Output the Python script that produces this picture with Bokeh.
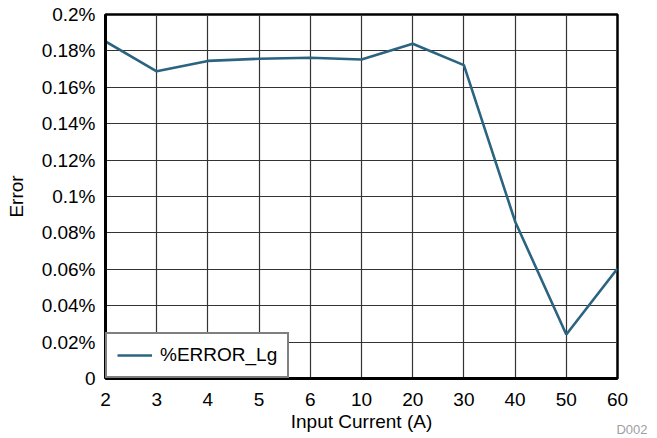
from bokeh.plotting import figure
from bokeh.models import Range1d, FixedTicker, Label, Legend, LegendItem
from bokeh.embed import file_html
from bokeh.resources import INLINE

currents = ["2", "3", "4", "5", "6", "10", "20", "30", "40", "50", "60"]
error_pct = [0.1852, 0.1688, 0.1745, 0.1757, 0.1762, 0.1753, 0.1839, 0.1722, 0.0863, 0.0242, 0.0604]
y_ticks = [0, 0.02, 0.04, 0.06, 0.08, 0.1, 0.12, 0.14, 0.16, 0.18, 0.2]
y_labels = ["0", "0.02%", "0.04%", "0.06%", "0.08%", "0.1%", "0.12%", "0.14%", "0.16%", "0.18%", "0.2%"]

FONT = "Liberation Sans"
xs = list(range(len(currents)))

p = figure(width=655, height=437, output_backend="svg", toolbar_location=None,
           x_range=Range1d(0, len(currents) - 1), y_range=Range1d(0, 0.2),
           min_border_left=105, min_border_right=38, min_border_top=14, min_border_bottom=59)
p.frame_width = 512
p.frame_height = 364

r = p.line(xs, error_pct, line_color="#2b6480", line_width=2.6)

p.xaxis.ticker = FixedTicker(ticks=xs)
p.xaxis.major_label_overrides = {i: c for i, c in enumerate(currents)}
p.yaxis.ticker = FixedTicker(ticks=y_ticks)
p.yaxis.major_label_overrides = {t: l for t, l in zip(y_ticks, y_labels)}

for ax in (p.xaxis[0], p.yaxis[0]):
    ax.major_tick_line_color = None
    ax.minor_tick_line_color = None
    ax.axis_line_color = "black"
    ax.axis_line_width = 3
    ax.major_label_text_font = FONT
    ax.major_label_text_font_size = "19px"
    ax.major_label_text_color = "black"
    ax.axis_label_text_font = FONT
    ax.axis_label_text_font_size = "19px"
    ax.axis_label_text_font_style = "normal"
    ax.axis_label_text_color = "black"

p.xaxis.major_label_standoff = 8
p.yaxis.major_label_standoff = 4
p.xaxis.axis_label = "Input Current (A)"
p.yaxis.axis_label = "Error"
p.xaxis.axis_label_standoff = 2
p.yaxis.axis_label_standoff = 12

p.xgrid.ticker = FixedTicker(ticks=xs)
p.ygrid.ticker = FixedTicker(ticks=y_ticks)
p.grid.grid_line_color = "#333333"
p.grid.grid_line_width = 1.2
p.outline_line_color = "black"
p.outline_line_width = 2.5
p.background_fill_color = "white"
p.border_fill_color = "white"

legend = Legend(items=[LegendItem(label="%ERROR_Lg", renderers=[r])], location="bottom_left")
legend.margin = 0
legend.padding = 10
legend.spacing = 0
legend.glyph_width = 35
legend.glyph_height = 22
legend.label_standoff = 8
legend.label_text_font = FONT
legend.label_text_font_size = "19px"
legend.label_text_color = "black"
legend.border_line_color = "black"
legend.border_line_width = 2.5
legend.background_fill_alpha = 1
p.add_layout(legend)

p.add_layout(Label(x=30, y=-51, x_units="screen", y_units="screen", text="D002",
                   text_font=FONT, text_font_size="13px", text_color="#a0a0a0",
                   text_align="right", text_baseline="alphabetic"), "right")

open("out.html", "w").write(file_html(p, INLINE))
